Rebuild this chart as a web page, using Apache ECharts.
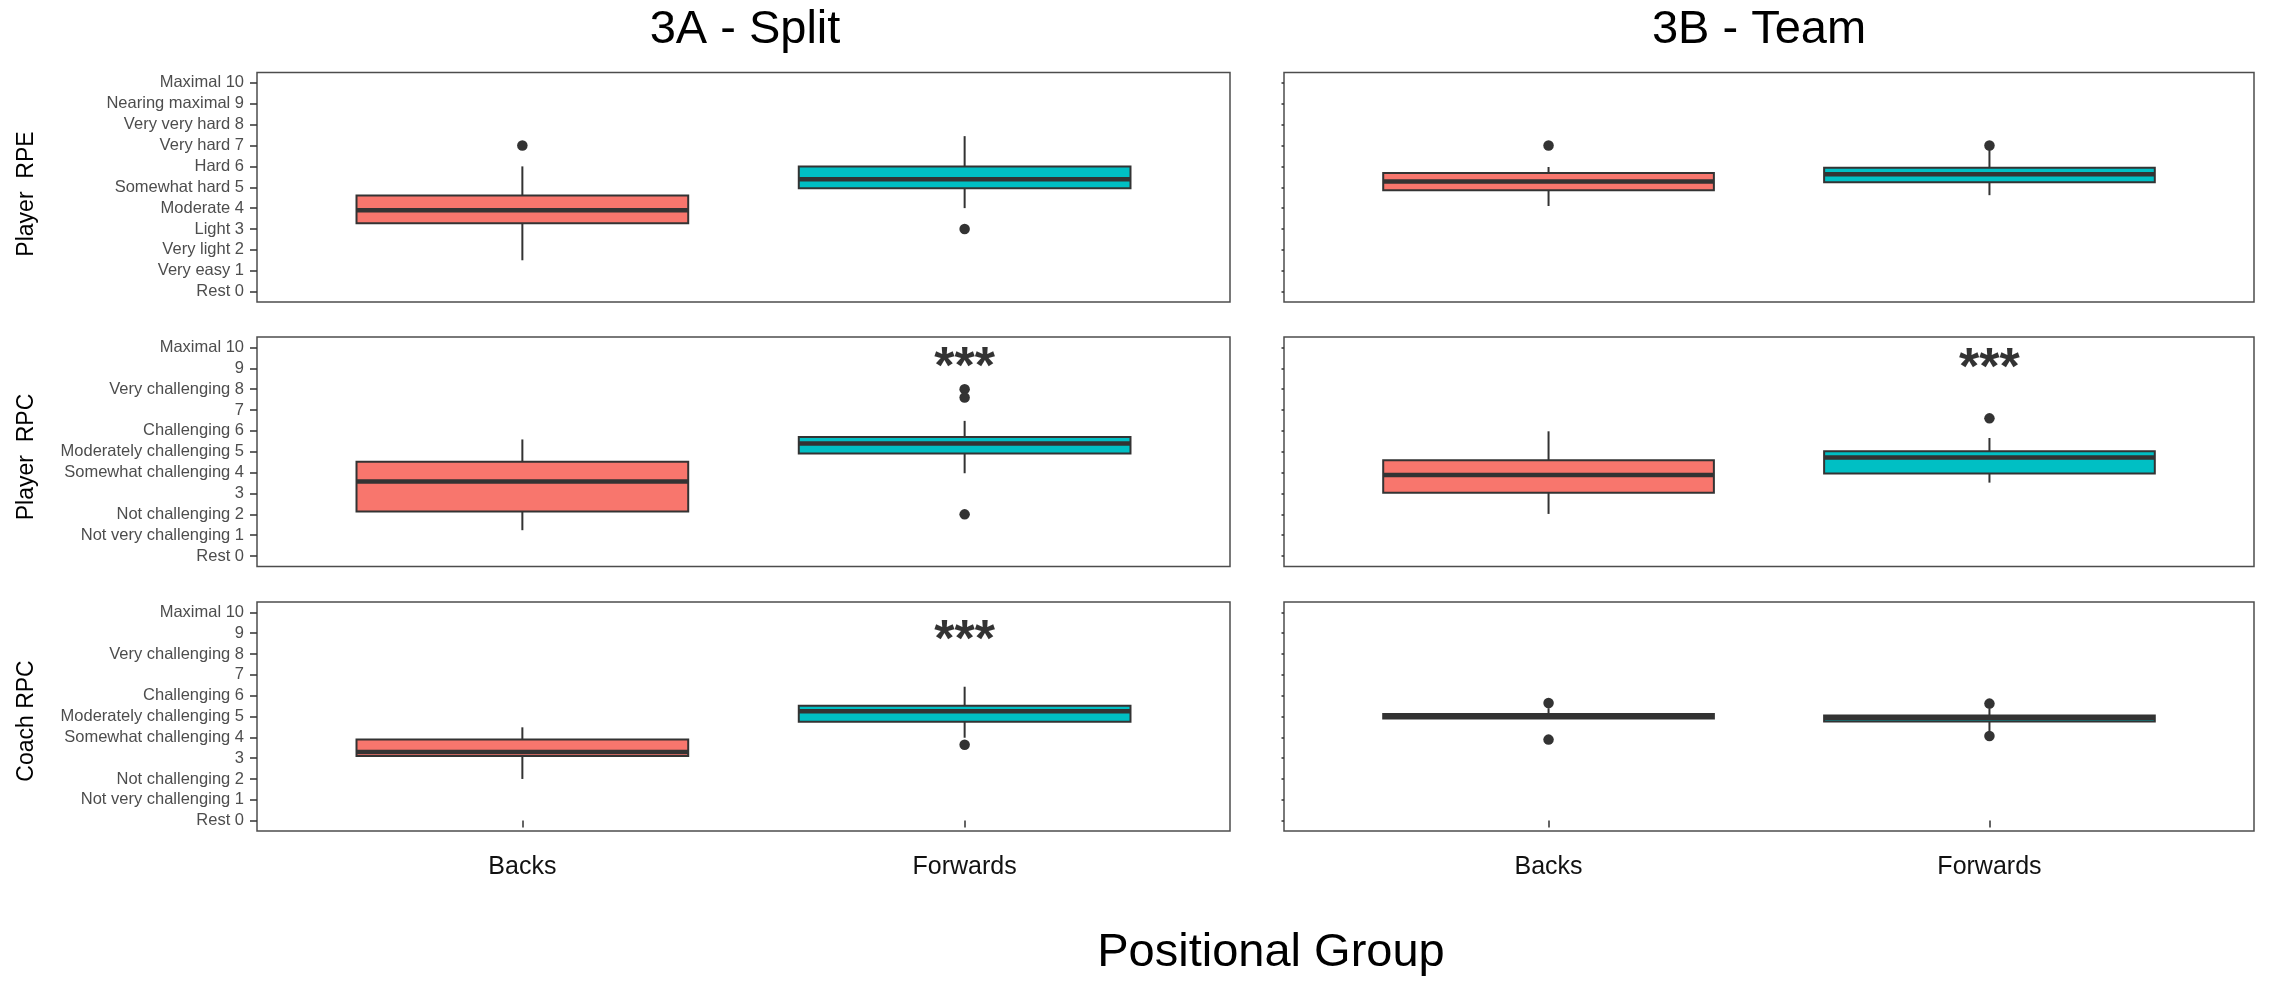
<!DOCTYPE html>
<html><head><meta charset="utf-8">
<script src="https://cdn.jsdelivr.net/npm/echarts@6/dist/echarts.min.js"></script>
<style>html,body{margin:0;padding:0;background:#fff}#c{width:2275px;height:982px}</style>
</head><body><div id="c"></div>
<script>
// ---------- data ----------
const categories = ['Backs', 'Forwards'];
const columnTitles = ['3A - Split', '3B - Team'];
const rowTitles = ['Player  RPE', 'Player  RPC', 'Coach RPC'];
const xTitle = 'Positional Group';
const tickValues = [0, 1, 2, 3, 4, 5, 6, 7, 8, 9, 10];
const rpeTickLabels = ['Rest 0', 'Very easy 1', 'Very light 2', 'Light 3', 'Moderate 4', 'Somewhat hard 5',
  'Hard 6', 'Very hard 7', 'Very very hard 8', 'Nearing maximal 9', 'Maximal 10'];
const rpcTickLabels = ['Rest 0', 'Not very challenging 1', 'Not challenging 2', '3', 'Somewhat challenging 4',
  'Moderately challenging 5', 'Challenging 6', '7', 'Very challenging 8', '9', 'Maximal 10'];

// box statistics per category: [lower whisker, Q1, median, Q3, upper whisker]
const splitPlayerRPE = [[1.5, 3.28, 3.9, 4.6, 6.0], [4.0, 4.95, 5.38, 6.0, 7.45]];
const splitPlayerRPC = [[1.24, 2.14, 3.57, 4.52, 5.59], [3.97, 4.92, 5.4, 5.71, 6.48]];
const splitCoachRPC = [[2.0, 3.1, 3.29, 3.9, 4.48], [3.98, 4.75, 5.25, 5.52, 6.43]];
const teamPlayerRPE = [[4.1, 4.86, 5.28, 5.68, 5.97], [4.62, 5.24, 5.62, 5.93, 6.85]];
const teamPlayerRPC = [[2.02, 3.04, 3.88, 4.59, 5.98], [3.52, 3.96, 4.73, 5.02, 5.66]];
const teamCoachRPC = [[4.9, 4.9, 5.0, 5.12, 5.4], [4.3, 4.76, 4.93, 5.05, 5.4]];

// outliers: [category position, value]
const splitPlayerRPEOut = [[1, 7.0], [2, 3.0]];
const splitPlayerRPCOut = [[2, 8.0], [2, 7.6], [2, 2.0]];
const splitCoachRPCOut = [[2, 3.64]];
const teamPlayerRPEOut = [[1, 7.0], [2, 7.0]];
const teamPlayerRPCOut = [[2, 6.6]];
const teamCoachRPCOut = [[1, 5.65], [1, 3.89], [2, 5.62], [2, 4.06]];

// significance markers: [category position, value]
const splitPlayerRPCSig = [[2, 9.54]];
const splitCoachRPCSig = [[2, 9.15]];
const teamPlayerRPCSig = [[2, 9.49]];

// ---------- layout / style ----------
const boxColors = ['#F8766D', '#00BFC4'];
const colLeft = [257, 1284];
const colWidth = [973, 970];
const rowTop = [72.5, 337, 602];
const rowHeight = [229.5, 229.5, 229];
const FONT = 'Liberation Sans, Arial, sans-serif';

const panels = [
  { col: 0, row: 0, box: splitPlayerRPE, out: splitPlayerRPEOut, sig: [], labels: rpeTickLabels },
  { col: 0, row: 1, box: splitPlayerRPC, out: splitPlayerRPCOut, sig: splitPlayerRPCSig, labels: rpcTickLabels },
  { col: 0, row: 2, box: splitCoachRPC, out: splitCoachRPCOut, sig: splitCoachRPCSig, labels: rpcTickLabels },
  { col: 1, row: 0, box: teamPlayerRPE, out: teamPlayerRPEOut, sig: [], labels: rpeTickLabels },
  { col: 1, row: 1, box: teamPlayerRPC, out: teamPlayerRPCOut, sig: teamPlayerRPCSig, labels: rpcTickLabels },
  { col: 1, row: 2, box: teamCoachRPC, out: teamCoachRPCOut, sig: [], labels: rpcTickLabels }
];

const catPositions = categories.map((c, i) => i + 1);
const HALF_BOX = 0.375;

function renderBox(params, api) {
  const x = api.value(0);
  const lo = api.value(1), q1 = api.value(2), med = api.value(3), q3 = api.value(4), hi = api.value(5);
  const pLo = api.coord([x, lo]);
  const pHi = api.coord([x, hi]);
  const pQ1L = api.coord([x - HALF_BOX, q1]);
  const pQ3R = api.coord([x + HALF_BOX, q3]);
  const pMedL = api.coord([x - HALF_BOX, med]);
  const pMedR = api.coord([x + HALF_BOX, med]);
  const cx = pLo[0];
  const stroke = '#333333';
  return {
    type: 'group',
    children: [
      { type: 'line', shape: { x1: cx, y1: pHi[1], x2: cx, y2: pQ3R[1] }, style: { stroke, lineWidth: 2 } },
      { type: 'line', shape: { x1: cx, y1: pQ1L[1], x2: cx, y2: pLo[1] }, style: { stroke, lineWidth: 2 } },
      { type: 'rect', shape: { x: pQ1L[0], y: pQ3R[1], width: pQ3R[0] - pQ1L[0], height: pQ1L[1] - pQ3R[1] },
        style: { fill: boxColors[x - 1], stroke, lineWidth: 2 } },
      { type: 'line', shape: { x1: pMedL[0], y1: pMedL[1], x2: pMedR[0], y2: pMedR[1] },
        style: { stroke, lineWidth: 4.5 } }
    ]
  };
}

const grid = [], xAxis = [], yAxis = [], series = [];
panels.forEach((p, i) => {
  grid.push({
    left: colLeft[p.col], top: rowTop[p.row], width: colWidth[p.col], height: rowHeight[p.row],
    show: true, borderColor: '#4d4d4d', borderWidth: 1.5, backgroundColor: '#fff'
  });
  const bottom = p.row === 2;
  xAxis.push({
    gridIndex: i, type: 'value', min: 0.4, max: 2.6,
    splitLine: { show: false }, axisLine: { show: false },
    axisTick: { show: bottom, customValues: catPositions, length: 7, lineStyle: { color: '#333', width: 1.5 } },
    axisLabel: {
      show: bottom, customValues: catPositions,
      formatter: v => categories[Math.round(v) - 1] || '',
      fontSize: 25, color: '#111', margin: 24, fontFamily: FONT
    }
  });
  yAxis.push({
    gridIndex: i, type: 'value', min: -0.5, max: 10.5,
    splitLine: { show: false }, axisLine: { show: false },
    axisTick: { show: true, customValues: tickValues, length: p.col === 0 ? 7 : 2.5,
      lineStyle: { color: '#333', width: 1.5 } },
    axisLabel: {
      show: p.col === 0, customValues: tickValues,
      formatter: v => p.labels[Math.round(v)],
      fontSize: 16.5, color: '#4d4d4d', margin: 13, fontFamily: FONT
    }
  });
  series.push({
    type: 'custom', xAxisIndex: i, yAxisIndex: i,
    data: p.box.map((s, k) => [catPositions[k]].concat(s)),
    encode: { x: 0, y: [1, 2, 3, 4, 5] },
    renderItem: renderBox, silent: true, z: 2
  });
  series.push({
    type: 'scatter', xAxisIndex: i, yAxisIndex: i, data: p.out,
    symbol: 'circle', symbolSize: 10.5, itemStyle: { color: '#333333', opacity: 1 }, silent: true, z: 3
  });
  if (p.sig.length) {
    series.push({
      type: 'scatter', xAxisIndex: i, yAxisIndex: i, data: p.sig,
      symbolSize: 0, silent: true, z: 4, itemStyle: { color: '#000' },
      label: { show: true, position: 'inside', formatter: '***', fontSize: 52, fontWeight: 'bold',
        color: '#000', textBorderWidth: 0, textBorderColor: 'transparent', fontFamily: FONT, offset: [0, 12] }
    });
  }
});

const textStyleBase = { fontFamily: FONT, fill: '#000', align: 'center', verticalAlign: 'middle' };
const graphic = [
  { type: 'text', x: 745, y: 30, style: Object.assign({ text: columnTitles[0], fontSize: 47 }, textStyleBase) },
  { type: 'text', x: 1759, y: 30, style: Object.assign({ text: columnTitles[1], fontSize: 47 }, textStyleBase) },
  { type: 'text', x: 1271, y: 953, style: Object.assign({ text: xTitle, fontSize: 47 }, textStyleBase) },
  { type: 'text', x: 26.5, y: 194, rotation: Math.PI / 2, style: Object.assign({ text: rowTitles[0], fontSize: 23 }, textStyleBase) },
  { type: 'text', x: 26.5, y: 457, rotation: Math.PI / 2, style: Object.assign({ text: rowTitles[1], fontSize: 23 }, textStyleBase) },
  { type: 'text', x: 26.5, y: 721, rotation: Math.PI / 2, style: Object.assign({ text: rowTitles[2], fontSize: 23 }, textStyleBase) }
];

const chart = echarts.init(document.getElementById('c'), null, { renderer: 'canvas' });
chart.setOption({
  backgroundColor: '#fff',
  animation: false,
  grid, xAxis, yAxis, series, graphic
});
</script>
</body></html>
